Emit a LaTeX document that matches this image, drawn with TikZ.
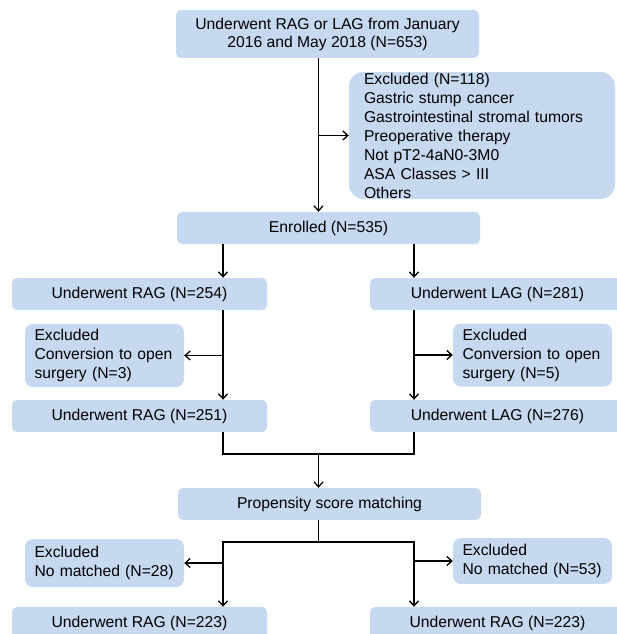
\documentclass[tikz,border=0pt]{standalone}
\usepackage{fontspec}
\setmainfont{Liberation Sans}
\usetikzlibrary{arrows.meta}
\definecolor{boxblue}{RGB}{198,217,240}

\tikzset{
    box/.style={fill=boxblue, rounded corners=5pt, minimum width=255pt, minimum height=32pt,
        inner sep=0pt, font=\fontsize{15.7}{18}\selectfont},
    widebox/.style={box, minimum width=303pt},
    exclbox/.style={fill=boxblue, rounded corners=8pt, inner xsep=9.5pt, inner ysep=0pt,
        text width=140pt, align=left, font=\fontsize{15.7}{19}\selectfont},
    flow/.style={line width=1.3pt, -{Straight Barb[length=5pt,width=9pt]}},
    link/.style={line width=1.3pt},
}

\begin{document}
\begin{tikzpicture}[x=1pt, y=-1pt]
    \useasboundingbox (0,0) rectangle (616,634);
    % boxes
    \node[widebox, minimum height=48pt, align=center] (start) at (327.5,34)
        {Underwent RAG or LAG from January\\2016 and May 2018 (N=653)};
    \node[exclbox, text width=236pt, inner xsep=15pt, minimum height=127pt, rounded corners=14pt] (excl) at (482,135.5)
        {Excluded (N=118)\\Gastric stump cancer\\Gastrointestinal stromal tumors\\Preoperative therapy\\Not pT2-4aN0-3M0\\ASA Classes > III\\Others};
    \node[widebox] (enrolled) at (328.5,228) {Enrolled (N=535)};
    \node[box] (rag1) at (139.5,294) {Underwent RAG (N=254)};
    \node[box] (lag1) at (497.5,294) {Underwent LAG (N=281)};
    \node[exclbox, minimum height=63pt] (conv1) at (104.5,355.5) {Excluded\\Conversion to open\\surgery (N=3)};
    \node[exclbox, minimum height=63pt] (conv2) at (532.5,355) {Excluded\\Conversion to open\\surgery (N=5)};
    \node[box] (rag2) at (139.5,416) {Underwent RAG (N=251)};
    \node[box] (lag2) at (497.5,416) {Underwent LAG (N=276)};
    \node[widebox] (psm) at (329.5,504) {Propensity score matching};
    \node[exclbox, minimum height=48pt] (nomatch1) at (104.5,563) {Excluded\\No matched (N=28)};
    \node[exclbox, minimum height=46pt] (nomatch2) at (532.5,561) {Excluded\\No matched (N=53)};
    \node[box] (rag3) at (139.5,623) {Underwent RAG (N=223)};
    \node[box] (rag4) at (497.5,623) {Underwent RAG (N=223)};
    % connectors
    \coordinate (mid) at (318.5,0);
    \coordinate (colL) at (223,0);
    \coordinate (colR) at (414,0);
    \coordinate (merge) at (318.5,454);
    \coordinate (split) at (318.5,542);
    \draw[flow] (start.south -| mid) -- (enrolled.north -| mid);
    \draw[flow] (mid |- excl.west) -- (excl.west);
    \draw[flow] (enrolled.south -| colL) -- (rag1.north -| colL);
    \draw[flow] (enrolled.south -| colR) -- (lag1.north -| colR);
    \draw[flow] (rag1.south -| colL) -- (rag2.north -| colL);
    \draw[flow] (lag1.south -| colR) -- (lag2.north -| colR);
    \draw[flow] (colL |- conv1.east) -- (conv1.east);
    \draw[flow] (colR |- conv2.west) -- (conv2.west);
    \draw[link] (rag2.south -| colL) |- (merge) -| (lag2.south -| colR);
    \draw[flow] (merge) -- (psm.north -| merge);
    \draw[link] (psm.south -| mid) -- (split);
    \draw[flow] (split) -| (rag3.north -| colL);
    \draw[flow] (split) -| (rag4.north -| colR);
    \draw[flow] (colL |- nomatch1.east) -- (nomatch1.east);
    \draw[flow] (colR |- nomatch2.west) -- (nomatch2.west);
\end{tikzpicture}
\end{document}
